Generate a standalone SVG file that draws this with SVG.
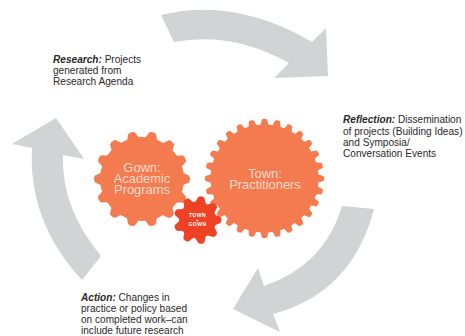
<svg xmlns="http://www.w3.org/2000/svg" width="465" height="336" viewBox="0 0 465 336">
<style>
.arrow{fill:#d1d3d4}
.cap{font:10.1px "Liberation Sans",Arial,sans-serif;fill:#2b2829}
.cap .b{font-weight:bold;font-style:italic}
.g{fill:#f47b4f}
.r{fill:#ef4123}
.lab{font-family:"Liberation Sans",Arial,sans-serif;font-size:12.9px;fill:#fcdccd;text-anchor:middle}
.sm{font-size:5px;font-weight:bold;letter-spacing:.5px;fill:#fff}
</style>
<defs>
<path id="t1" d="M-6.500 -40L-3.500 -47Q0 -49 3.500 -47L6.500 -40Z"/>
<path id="t2" d="M-4.200 -53L-2.600 -59Q0 -60.500 2.600 -59L4.200 -53Z"/>
<path id="t3" d="M-5.500 -17L-3 -23Q0 -25 3 -23L5.500 -17Z"/>
</defs>
<rect width="465" height="336" fill="#fff"/>
<g id="connectors">
<path class="arrow" d="M161 15Q235 -3 312 42L326 28L328 76L274 78L289 63Q232 31 174 42Z"/>
<path class="arrow" d="M342 206Q325 265 264 286L258 268L233 309L280 332L273 314Q352 293 374 209Z"/>
<path class="arrow" d="M101 256Q61 208 63 155L84 159L56 118L12 144L32 148Q28 222 82 280Z"/>
</g>
<g id="gown">
<g class="g" transform="translate(142 179)">
<circle r="42"/>
<use href="#t1" transform="rotate(13)"/><use href="#t1" transform="rotate(38.7)"/><use href="#t1" transform="rotate(64.4)"/><use href="#t1" transform="rotate(90.1)"/><use href="#t1" transform="rotate(115.9)"/><use href="#t1" transform="rotate(141.6)"/><use href="#t1" transform="rotate(167.3)"/><use href="#t1" transform="rotate(193)"/><use href="#t1" transform="rotate(218.7)"/><use href="#t1" transform="rotate(244.4)"/><use href="#t1" transform="rotate(270.1)"/><use href="#t1" transform="rotate(295.9)"/><use href="#t1" transform="rotate(321.6)"/><use href="#t1" transform="rotate(347.3)"/>
</g>
<text class="lab" x="142" y="171.700">Gown:</text>
<text class="lab" x="142" y="182.700">Academic</text>
<text class="lab" x="142" y="193.500">Programs</text>
</g>
<g id="town">
<g class="g" transform="translate(264.500 178.500)">
<circle r="54"/>
<use href="#t2"/><use href="#t2" transform="rotate(12.86)"/><use href="#t2" transform="rotate(25.71)"/><use href="#t2" transform="rotate(38.57)"/><use href="#t2" transform="rotate(51.43)"/><use href="#t2" transform="rotate(64.29)"/><use href="#t2" transform="rotate(77.14)"/><use href="#t2" transform="rotate(90)"/><use href="#t2" transform="rotate(102.86)"/><use href="#t2" transform="rotate(115.71)"/><use href="#t2" transform="rotate(128.57)"/><use href="#t2" transform="rotate(141.43)"/><use href="#t2" transform="rotate(154.29)"/><use href="#t2" transform="rotate(167.14)"/><use href="#t2" transform="rotate(180)"/><use href="#t2" transform="rotate(192.86)"/><use href="#t2" transform="rotate(205.71)"/><use href="#t2" transform="rotate(218.57)"/><use href="#t2" transform="rotate(231.43)"/><use href="#t2" transform="rotate(244.29)"/><use href="#t2" transform="rotate(257.14)"/><use href="#t2" transform="rotate(270)"/><use href="#t2" transform="rotate(282.86)"/><use href="#t2" transform="rotate(295.71)"/><use href="#t2" transform="rotate(308.57)"/><use href="#t2" transform="rotate(321.43)"/><use href="#t2" transform="rotate(334.29)"/><use href="#t2" transform="rotate(347.14)"/>
</g>
<text class="lab" x="265" y="178.300">Town:</text>
<text class="lab" x="265" y="189.200">Practitioners</text>
</g>
<g id="town-gown">
<g class="r" transform="translate(197.500 220)">
<circle r="18.500"/>
<use href="#t3" transform="rotate(10)"/><use href="#t3" transform="rotate(50)"/><use href="#t3" transform="rotate(90)"/><use href="#t3" transform="rotate(130)"/><use href="#t3" transform="rotate(170)"/><use href="#t3" transform="rotate(210)"/><use href="#t3" transform="rotate(250)"/><use href="#t3" transform="rotate(290)"/><use href="#t3" transform="rotate(330)"/>
</g>
<text class="lab sm" x="197.500" y="217">TOWN</text>
<text class="lab sm" x="197.500" y="221.500">+</text>
<text class="lab sm" x="197.500" y="226">GOWN</text>
</g>
<g id="research">
<text class="cap" x="53" y="62.500"><tspan class="b">Research:</tspan> Projects</text>
<text class="cap" x="53" y="74">generated from</text>
<text class="cap" x="53" y="85">Research Agenda</text>
</g>
<g id="reflection">
<text class="cap" x="343" y="123"><tspan class="b">Reflection:</tspan> Dissemination</text>
<text class="cap" x="343" y="134.500">of projects (Building Ideas)</text>
<text class="cap" x="343" y="146">and Symposia/</text>
<text class="cap" x="343" y="157">Conversation Events</text>
</g>
<g id="action">
<text class="cap" x="81" y="301"><tspan class="b">Action:</tspan> Changes in</text>
<text class="cap" x="81" y="312">practice or policy based</text>
<text class="cap" x="81" y="323">on completed work–can</text>
<text class="cap" x="81" y="334">include future research</text>
</g>
</svg>
